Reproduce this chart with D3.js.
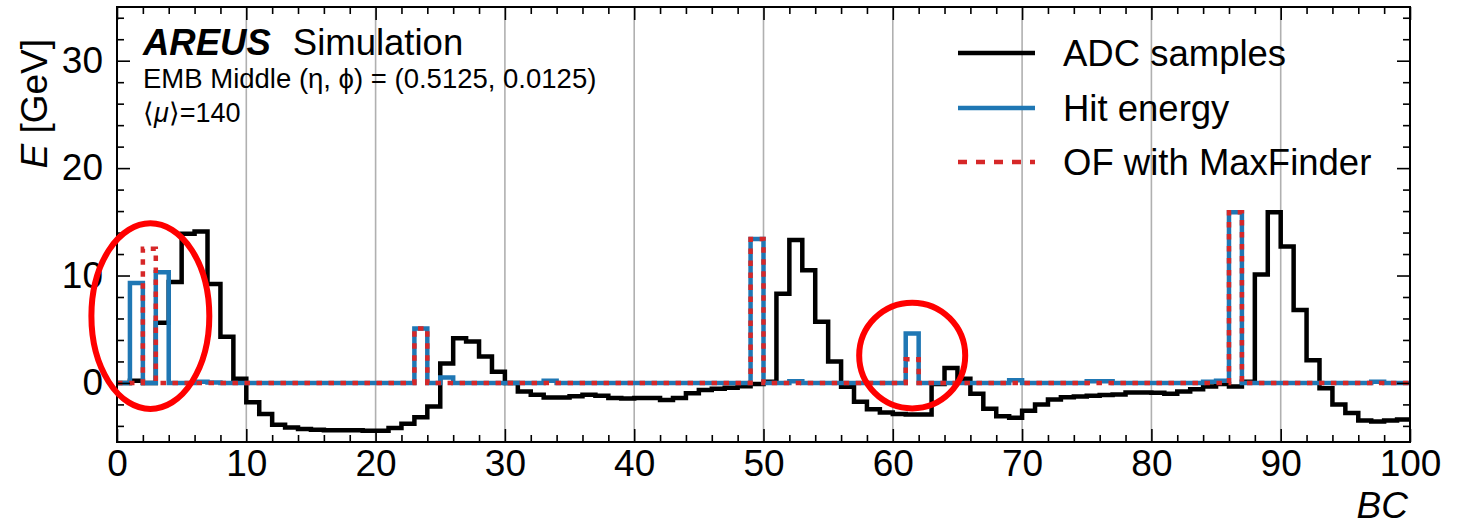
<!DOCTYPE html>
<html>
<head>
<meta charset="utf-8">
<script src="https://cdn.jsdelivr.net/npm/d3@7"></script>
<style>
  html, body { margin: 0; padding: 0; background: #fff; }
  svg { display: block; font-family: "Liberation Sans", Arial, Helvetica, sans-serif; }
</style>
</head>
<body>
<svg id="chart" width="1463" height="525"></svg>
<script>
// ---------- data (one value per bunch crossing, bins 0..99) ----------
const adcSamples = [
  0.0, 0.2, 0.0, 5.6, 9.4, 13.9, 14.1, 9.2, 4.3, 0.4,
  -1.8, -2.9, -3.9, -4.15, -4.3, -4.35, -4.4, -4.4, -4.4, -4.45,
  -4.45, -4.2, -3.8, -3.2, -2.2, 1.8, 4.15, 3.85, 2.45, 1.05,
  0.0, -0.8, -1.1, -1.35, -1.35, -1.25, -1.1, -1.2, -1.4, -1.45,
  -1.4, -1.4, -1.6, -1.4, -0.95, -0.65, -0.55, -0.45, -0.3, -0.1,
  0.1, 8.3, 13.3, 10.5, 5.7, 2.0, -0.35, -1.75, -2.45, -2.75,
  -2.9, -2.95, -2.95, -0.1, 1.4, 0.4, -1.0, -2.4, -3.1, -3.25,
  -2.6, -2.0, -1.55, -1.33, -1.27, -1.2, -1.12, -1.07, -0.9, -0.9,
  -0.92, -1.0, -0.8, -0.6, -0.34, -0.1, -0.34, 0.12, 10.1, 15.9,
  12.7, 6.8, 2.1, -0.5, -2.0, -2.8, -3.5, -3.6, -3.5, -3.4
];
const hitEnergy = [
  0, 9.3, 0, 10.3, 0, 0, 0.1, 0.05, 0, 0,
  0, 0, 0, 0, 0, 0, 0, 0, 0, 0,
  0, 0, 0, 5.07, 0, 0.5, 0, 0, 0, 0,
  0, 0, 0, 0.2, 0, 0, 0, 0, 0, 0,
  0, 0, 0, 0, 0, 0, 0, 0, 0, 13.4,
  0, 0, 0.15, 0, 0, 0, 0, 0, 0, 0,
  0, 4.6, 0, 0, 0, 0, 0, 0, 0, 0.25,
  0, 0, 0, 0, 0, 0.15, 0.15, 0, 0, 0,
  0, 0, 0, 0, 0.1, 0.2, 15.9, 0, 0, 0,
  0, 0, 0, 0, 0, 0, 0, 0.1, 0, 0
];
const ofMaxFinder = [
  0, 0, 12.5, 0, 0, 0, 0, 0, 0, 0,
  0, 0, 0, 0, 0, 0, 0, 0, 0, 0,
  0, 0, 0, 5.07, 0, 0, 0, 0, 0, 0,
  0, 0, 0, 0, 0, 0, 0, 0, 0, 0,
  0, 0, 0, 0, 0, 0, 0, 0, 0, 13.4,
  0, 0, 0, 0, 0, 0, 0, 0, 0, 0,
  0, 2.2, 0, 0, 0, 0, 0, 0, 0, 0,
  0, 0, 0, 0, 0, 0, 0, 0, 0, 0,
  0, 0, 0, 0, 0, 0, 15.9, 0, 0, 0,
  0, 0, 0, 0, 0, 0, 0, 0, 0, 0
];
const seriesNames = ["ADC samples", "Hit energy", "OF with MaxFinder"];
const xTicks = [0, 10, 20, 30, 40, 50, 60, 70, 80, 90, 100];
const yTicks = [0, 10, 20, 30];
// highlighted regions [centre BC, centre E, radius BC, radius E]
const highlightBC = [2.58, 61.5];
const highlightE = [6.22, 2.55];
const highlightRBC = [4.56, 4.1];
const highlightRE = [8.64, 4.92];

// ---------- layout ----------
const svg = d3.select("#chart");
const L = 117, R = 1410, T = 7, B = 442;
const x = d3.scaleLinear().domain([0, 100]).range([L, R]);
const y = d3.scaleLinear().domain([-5.5, 35]).range([B, T]);

svg.append("defs").append("clipPath").attr("id", "clip")
  .append("rect").attr("x", L).attr("y", T).attr("width", R - L).attr("height", B - T);

// grid (vertical only)
svg.append("g").selectAll("line").data(xTicks.slice(1, -1)).join("line")
  .attr("x1", d => x(d)).attr("x2", d => x(d)).attr("y1", T).attr("y2", B)
  .attr("stroke", "#b0b0b0").attr("stroke-width", 1.6);

// step lines
function stepPoints(vals) {
  const pts = vals.map((v, i) => [i, v]);
  pts.push([vals.length, vals[vals.length - 1]]);
  return pts;
}
const lw = 4.5;
const line = d3.line().x(d => x(d[0])).y(d => y(d[1])).curve(d3.curveStepAfter);
const plot = svg.append("g").attr("clip-path", "url(#clip)");
plot.append("path").attr("d", line(stepPoints(adcSamples)))
  .attr("fill", "none").attr("stroke", "#000").attr("stroke-width", lw).attr("stroke-linejoin", "miter");
plot.append("path").attr("d", line(stepPoints(hitEnergy)))
  .attr("fill", "none").attr("stroke", "#1f77b4").attr("stroke-width", lw).attr("stroke-linejoin", "miter");
plot.append("path").attr("d", line(stepPoints(ofMaxFinder)))
  .attr("fill", "none").attr("stroke", "#d62728").attr("stroke-width", lw)
  .attr("stroke-dasharray", "5.5,6.5").attr("stroke-linejoin", "miter");

// axes with inward ticks
const fs = 37;
function minorVals(lo, hi, step, majorStep) {
  const out = [];
  for (let v = Math.ceil(lo / step) * step; v <= hi + 1e-9; v += step) {
    if (Math.abs(v / majorStep - Math.round(v / majorStep)) > 1e-6) out.push(+v.toFixed(6));
  }
  return out;
}
const xMinor = minorVals(0, 100, 2, 10);
const yMinor = minorVals(-5.5, 35, 2, 10);

function styleAxis(g) {
  g.select(".domain").remove();
  g.selectAll(".tick line").attr("stroke", "#000").attr("stroke-width", 1.6);
  g.selectAll("text").attr("font-size", fs).attr("fill", "#000")
    .attr("font-family", "'Liberation Sans', Arial, sans-serif");
}
// bottom
svg.append("g").attr("transform", `translate(0,${B})`)
  .call(d3.axisBottom(x).tickValues(xTicks).tickSize(-13).tickPadding(8).tickFormat(d3.format("d"))).call(styleAxis);
svg.append("g").attr("transform", `translate(0,${B})`)
  .call(d3.axisBottom(x).tickValues(xMinor).tickSize(-7).tickFormat("")).call(styleAxis);
// top
svg.append("g").attr("transform", `translate(0,${T})`)
  .call(d3.axisTop(x).tickValues(xTicks).tickSize(-13).tickFormat("")).call(styleAxis);
svg.append("g").attr("transform", `translate(0,${T})`)
  .call(d3.axisTop(x).tickValues(xMinor).tickSize(-7).tickFormat("")).call(styleAxis);
// left
svg.append("g").attr("transform", `translate(${L},0)`)
  .call(d3.axisLeft(y).tickValues(yTicks).tickSize(-13).tickPadding(14).tickFormat(d3.format("d"))).call(styleAxis);
svg.append("g").attr("transform", `translate(${L},0)`)
  .call(d3.axisLeft(y).tickValues(yMinor).tickSize(-7).tickFormat("")).call(styleAxis);
// right
svg.append("g").attr("transform", `translate(${R},0)`)
  .call(d3.axisRight(y).tickValues(yTicks).tickSize(-13).tickFormat("")).call(styleAxis);
svg.append("g").attr("transform", `translate(${R},0)`)
  .call(d3.axisRight(y).tickValues(yMinor).tickSize(-7).tickFormat("")).call(styleAxis);

// frame
svg.append("rect").attr("x", L).attr("y", T).attr("width", R - L).attr("height", B - T)
  .attr("fill", "none").attr("stroke", "#000").attr("stroke-width", 2);

// axis labels
svg.append("text").attr("x", R - 2).attr("y", 518).attr("text-anchor", "end")
  .attr("font-size", fs).attr("font-style", "italic").text("BC");
const yl = svg.append("text").attr("transform", `translate(47,${T + 32}) rotate(-90)`)
  .attr("text-anchor", "end").attr("font-size", fs);
yl.append("tspan").attr("font-style", "italic").text("E");
yl.append("tspan").text(" [GeV]");

// experiment label
const t1 = svg.append("text").attr("x", 143).attr("y", 55).attr("font-size", 36.5);
t1.append("tspan").attr("font-weight", "bold").attr("font-style", "italic").text("AREUS");
t1.append("tspan").attr("dx", 22).text("Simulation");
svg.append("text").attr("x", 143).attr("y", 88).attr("font-size", 27.5)
  .text("EMB Middle (η, ϕ) = (0.5125, 0.0125)");
const t3 = svg.append("text").attr("x", 143).attr("y", 122).attr("font-size", 27);
t3.append("tspan").text("⟨");
t3.append("tspan").attr("font-style", "italic").text("μ");
t3.append("tspan").text("⟩=140");

// legend
const legY = [53, 108, 162];
const legStyles = [
  { c: "#000", dash: null },
  { c: "#1f77b4", dash: null },
  { c: "#d62728", dash: "9,9" }
];
const leg = svg.append("g");
seriesNames.forEach((n, i) => {
  const ln = leg.append("line").attr("x1", 958).attr("x2", 1035)
    .attr("y1", legY[i]).attr("y2", legY[i]).attr("stroke", legStyles[i].c).attr("stroke-width", lw);
  if (legStyles[i].dash) ln.attr("stroke-dasharray", legStyles[i].dash);
  leg.append("text").attr("x", 1063).attr("y", legY[i] + 13).attr("font-size", 36.5).text(n);
});

// highlight ellipses
svg.append("g").selectAll("ellipse").data(highlightBC).join("ellipse")
  .attr("cx", (d, i) => x(d)).attr("cy", (d, i) => y(highlightE[i]))
  .attr("rx", (d, i) => x(highlightRBC[i]) - x(0))
  .attr("ry", (d, i) => y(0) - y(highlightRE[i]))
  .attr("fill", "none").attr("stroke", "#ff0000").attr("stroke-width", 6);
</script>
</body>
</html>
